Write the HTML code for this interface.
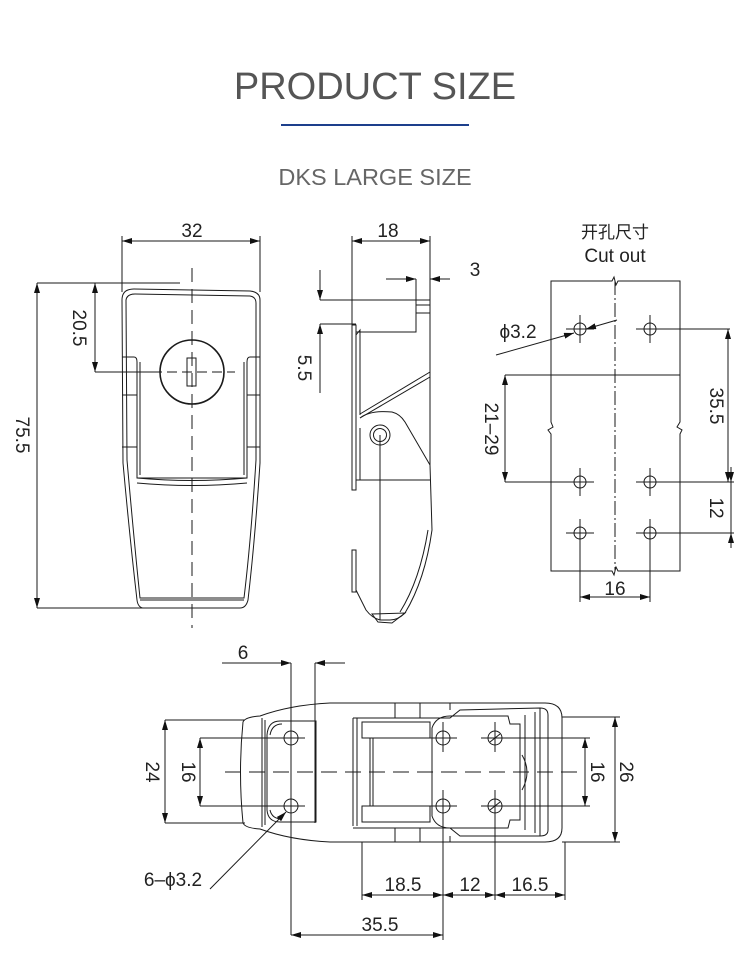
<!DOCTYPE html>
<html><head><meta charset="utf-8"><style>
html,body{margin:0;padding:0;background:#fff;}
svg{display:block}
text{font-family:"Liberation Sans","Noto Sans CJK SC",sans-serif;fill:#222}
</style></head><body>
<svg width="750" height="979" viewBox="0 0 750 979" xmlns="http://www.w3.org/2000/svg">
<defs>
<marker id="a" viewBox="0 0 10 6" refX="10" refY="3" markerWidth="10" markerHeight="6" markerUnits="userSpaceOnUse" orient="auto-start-reverse"><path d="M0,0L10,3L0,6z" fill="#111"/></marker>
</defs>
<text x="375" y="99" text-anchor="middle" font-size="38" style="fill:#555">PRODUCT SIZE</text>
<rect x="281" y="124" width="188" height="2" fill="#1d3f8c"/>
<text x="375" y="185" text-anchor="middle" font-size="23.5" style="fill:#666">DKS LARGE SIZE</text>

<g fill="none" stroke="#1a1a1a" stroke-width="1">
<!-- FRONT VIEW -->
<line x1="122" y1="236" x2="122" y2="292"/><line x1="260" y1="236" x2="260" y2="292"/>
<line x1="122" y1="241" x2="260" y2="241" marker-start="url(#a)" marker-end="url(#a)"/>
<line x1="37" y1="283" x2="180" y2="283"/><line x1="37" y1="608" x2="150" y2="608"/>
<line x1="37" y1="283" x2="37" y2="608" marker-start="url(#a)" marker-end="url(#a)"/>
<line x1="95" y1="283" x2="95" y2="372" marker-start="url(#a)" marker-end="url(#a)"/>
<line x1="95" y1="372" x2="160" y2="372"/>
<path d="M122,300 Q122,289 134,289 L250,291 Q260,292 260,300 L260,463 Q255,540 248,600 Q246,608 240,608 L144,608 Q138,608 137,600 Q130,540 123,463 Z"/>
<path d="M126,300 Q127,294 135,294 L250,296 Q256,297 256,303 L256,460 Q251,540 244,598 L140,598 Q134,540 127,460 Z"/>
<line x1="140" y1="600" x2="244" y2="600"/>
<path d="M122,357 L134,357 Q137,357 137,362 L137,478 L247,478 L247,362 Q247,357 250,357 L260,357"/>
<path d="M140,362 L140,475 M244,362 L244,475"/>
<path d="M137,478 Q192,483 247,478 M137,483 Q192,488 247,483"/>
<path d="M122,395 L137,395 M247,395 L260,395 M122,447 L137,447 M247,447 L260,447"/>
<circle cx="192" cy="372" r="32" stroke-width="1.6"/>
<rect x="187" y="358" width="9" height="28"/>
<line x1="192" y1="268" x2="192" y2="628" stroke-dasharray="14,7"/>
<line x1="152" y1="372" x2="235" y2="372" stroke-dasharray="10,5"/>

<!-- SIDE VIEW -->
<line x1="352" y1="236" x2="352" y2="330"/><line x1="430" y1="236" x2="430" y2="300"/>
<line x1="352" y1="241" x2="430" y2="241" marker-start="url(#a)" marker-end="url(#a)"/>
<line x1="386" y1="279" x2="416" y2="279" marker-end="url(#a)"/>
<line x1="450" y1="279" x2="430" y2="279" marker-end="url(#a)"/>
<line x1="416" y1="279" x2="416" y2="332"/>
<line x1="320" y1="270" x2="320" y2="300" marker-end="url(#a)"/>
<line x1="320" y1="393" x2="320" y2="324" marker-end="url(#a)"/>
<line x1="320" y1="300" x2="430" y2="300"/><line x1="320" y1="324" x2="356" y2="324"/>
<path d="M416,300 L430,300 L430,313 L416,313 M430,305 L416,305"/>
<path d="M356,332 L416,332 L416,324"/>
<path d="M352,325 L352,490 L356,490 L356,325 Z"/>
<path d="M356,335 L360,330 L360,415"/>
<path d="M360,414 L430,372 M360,418 L430,377"/>
<path d="M360,418 Q370,410 392,412 Q400,414 405,422 L430,465 L432,530 Q425,580 405,613 Q398,620 390,620 L380,620 Q372,618 366,610 L356,590"/>
<path d="M430,465 L430,298"/>
<path d="M405,613 L392,623 L378,622 L372,614 Z"/>
<path d="M360,428 L360,480 M356,480 L430,480"/>
<path d="M428,530 Q420,580 400,612"/>
<circle cx="380" cy="435" r="10"/><circle cx="380" cy="435" r="6.5"/>
<line x1="380" y1="435" x2="380" y2="620"/>
<path d="M352,550 L356,550 L356,592 L352,592 Z"/>

<!-- CUTOUT -->
<path d="M551,281 L612,281 L614,277 L616,285 L618,281 L680,281 L680,422 L677,427 L682,430 L680,434 L680,571 L618,571 L616,567 L614,575 L612,571 L551,571 L551,434 L548,430 L553,427 L551,422 Z"/>
<line x1="615" y1="281" x2="615" y2="571" stroke-dasharray="14,3,2,3"/>
<g>
<circle cx="580" cy="329" r="6"/><circle cx="650" cy="329" r="6"/>
<circle cx="580" cy="482" r="6"/><circle cx="650" cy="482" r="6"/>
<circle cx="580" cy="533" r="6"/><circle cx="650" cy="533" r="6"/>
<path d="M566,329h28M580,315v28M636,329h28M650,315v28M566,482h28M580,468v28M636,482h28M650,468v28M566,533h28M580,519v28M636,533h28M650,519v28"/>
</g>
<line x1="656" y1="329" x2="730" y2="329"/><line x1="656" y1="482" x2="734" y2="482"/><line x1="656" y1="533" x2="734" y2="533"/>
<line x1="728" y1="329" x2="728" y2="482" marker-start="url(#a)" marker-end="url(#a)"/>
<line x1="731" y1="467" x2="731" y2="482" marker-end="url(#a)"/>
<line x1="731" y1="548" x2="731" y2="533" marker-end="url(#a)"/>
<line x1="731" y1="482" x2="731" y2="533"/>
<line x1="505" y1="375" x2="680" y2="375"/><line x1="505" y1="482" x2="574" y2="482"/>
<line x1="505" y1="375" x2="505" y2="482" marker-start="url(#a)" marker-end="url(#a)"/>
<line x1="580" y1="539" x2="580" y2="602"/><line x1="650" y1="539" x2="650" y2="602"/>
<line x1="580" y1="597" x2="650" y2="597" marker-start="url(#a)" marker-end="url(#a)"/>
<line x1="496" y1="355" x2="574" y2="333" marker-end="url(#a)"/>
<line x1="617" y1="320" x2="586" y2="329" marker-end="url(#a)"/>

<!-- BOTTOM VIEW -->
<line x1="222" y1="663" x2="291" y2="663" marker-end="url(#a)"/>
<line x1="345" y1="663" x2="315" y2="663" marker-end="url(#a)"/>
<line x1="291" y1="663" x2="291" y2="935"/><line x1="315" y1="663" x2="315" y2="823"/>
<path d="M243,722 Q245,717 260,716 Q290,705 330,703 L545,703 Q562,703 562,718 L562,828 Q562,842 545,842 L330,842 Q290,840 260,829 Q245,828 243,823 Q238,772 243,722 Z"/>
<path d="M265,720 L265,825 M262,718 L262,827"/>
<path d="M316,721 L280,721 Q268,721 267,735 L267,810 Q268,822 280,822 L316,822 Z"/>
<path d="M270,735 Q272,724 282,724 M270,810 Q272,819 282,819"/>
<path d="M353,718 L353,826 M357,718 L357,826 M353,718 L450,718 L460,710 L540,708 Q548,708 548,715 L548,830 Q548,836 540,836 L460,836 L450,828 L353,828"/>
<path d="M362,722 L430,722 L430,738 L362,738 Z M362,806 L430,806 L430,822 L362,822 Z"/>
<path d="M370,738 L370,806 M373,738 L373,806"/>
<path d="M432,728 Q436,716 450,716 L508,716 L510,724 L520,724 L520,820 L510,820 L508,828 L450,828 Q436,828 432,816 Z"/>
<path d="M525,715 L525,830 M535,712 L535,833 M540,708 L540,836"/>
<path d="M522,755 Q532,772 522,790"/>
<path d="M420,703 L420,718 M395,703 L395,718 M420,828 L420,842 M395,828 L395,842 M450,703 L450,710 M450,836 L450,842"/>
<circle cx="291" cy="738" r="7"/><circle cx="291" cy="806" r="7"/>
<circle cx="443" cy="738" r="7"/><circle cx="443" cy="806" r="7"/>
<circle cx="495" cy="738" r="7"/><circle cx="495" cy="806" r="7"/>
<path d="M490,742 L500,734 M490,810 L500,802"/>
<path d="M277,738h28M277,806h28M429,738h28M429,806h28M481,738h28M481,806h28M443,722v30M443,790v30M495,722v30M495,790v30"/>
<line x1="225" y1="772" x2="585" y2="772" stroke-dasharray="16,8"/>
<line x1="165" y1="720" x2="245" y2="720"/><line x1="165" y1="823" x2="245" y2="823"/>
<line x1="165" y1="720" x2="165" y2="823" marker-start="url(#a)" marker-end="url(#a)"/>
<line x1="200" y1="738" x2="284" y2="738"/><line x1="200" y1="806" x2="284" y2="806"/>
<line x1="200" y1="738" x2="200" y2="806" marker-start="url(#a)" marker-end="url(#a)"/>
<line x1="502" y1="738" x2="590" y2="738"/><line x1="502" y1="806" x2="590" y2="806"/>
<line x1="585" y1="738" x2="585" y2="806" marker-start="url(#a)" marker-end="url(#a)"/>
<line x1="562" y1="717" x2="620" y2="717"/><line x1="562" y1="842" x2="620" y2="842"/>
<line x1="615" y1="717" x2="615" y2="842" marker-start="url(#a)" marker-end="url(#a)"/>
<line x1="362" y1="842" x2="362" y2="900"/><line x1="495" y1="813" x2="495" y2="900"/><line x1="565" y1="842" x2="565" y2="900"/>
<line x1="443" y1="813" x2="443" y2="940"/>
<line x1="362" y1="895" x2="443" y2="895" marker-start="url(#a)" marker-end="url(#a)"/>
<line x1="443" y1="895" x2="495" y2="895" marker-start="url(#a)" marker-end="url(#a)"/>
<line x1="495" y1="895" x2="565" y2="895" marker-start="url(#a)" marker-end="url(#a)"/>
<line x1="291" y1="935" x2="443" y2="935" marker-start="url(#a)" marker-end="url(#a)"/>
<line x1="210" y1="889" x2="286" y2="812" marker-end="url(#a)"/>
</g>

<g font-size="19">
<text x="192" y="237" text-anchor="middle">32</text>
<text x="388" y="237" text-anchor="middle">18</text>
<text x="475" y="276" text-anchor="middle">3</text>
<text transform="translate(73,328) rotate(90)" text-anchor="middle">20.5</text>
<text transform="translate(16,435) rotate(90)" text-anchor="middle">75.5</text>
<text transform="translate(298,368) rotate(90)" text-anchor="middle">5.5</text>
<text x="615" y="238" text-anchor="middle" font-size="17">开孔尺寸</text>
<text x="615" y="262" text-anchor="middle">Cut out</text>
<text x="518" y="338" text-anchor="middle">ϕ3.2</text>
<text transform="translate(710,406) rotate(90)" text-anchor="middle">35.5</text>
<text transform="translate(710,508) rotate(90)" text-anchor="middle">12</text>
<text transform="translate(485,429) rotate(90)" text-anchor="middle">21–29</text>
<text x="615" y="595" text-anchor="middle">16</text>
<text x="243" y="659" text-anchor="middle">6</text>
<text transform="translate(146,772) rotate(90)" text-anchor="middle">24</text>
<text transform="translate(182,772) rotate(90)" text-anchor="middle">16</text>
<text transform="translate(591,772) rotate(90)" text-anchor="middle">16</text>
<text transform="translate(620,772) rotate(90)" text-anchor="middle">26</text>
<text x="173" y="886" text-anchor="middle">6–ϕ3.2</text>
<text x="403" y="891" text-anchor="middle">18.5</text>
<text x="470" y="891" text-anchor="middle">12</text>
<text x="530" y="891" text-anchor="middle">16.5</text>
<text x="380" y="931" text-anchor="middle">35.5</text>
</g>
</svg>
</body></html>
